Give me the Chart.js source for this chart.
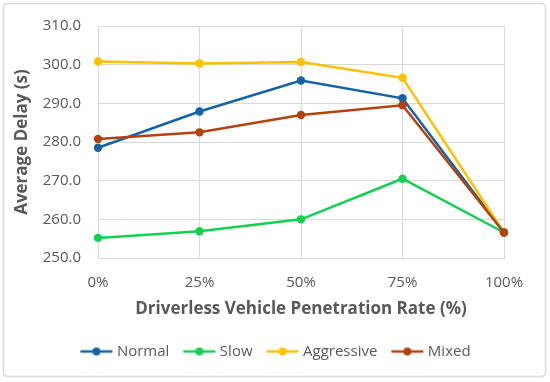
<!DOCTYPE html>
<html><head><meta charset="utf-8">
<script src="https://cdn.jsdelivr.net/npm/chart.js@4"></script>
<style>html,body{margin:0;padding:0;background:#fff}#wrap{width:550px;height:382px}</style>
</head><body><div id="wrap"><canvas id="c" width="550" height="382"></canvas></div>
<script>
const categories = ['0%', '25%', '50%', '75%', '100%'];
const seriesNames = ['Normal', 'Slow', 'Aggressive', 'Mixed'];
const normal = [278.5, 287.9, 295.9, 291.3, 256.6];
const slow = [255.2, 256.9, 260.0, 270.5, 256.6];
const aggressive = [300.8, 300.3, 300.7, 296.6, 256.6];
const mixed = [280.8, 282.5, 287.0, 289.5, 256.6];
const yMin = 250, yMax = 310, yStep = 10;
const xTitle = 'Driverless Vehicle Penetration Rate (%)';
const yTitle = 'Average Delay (s)';

const colors = ['#1563A6', '#14D052', '#FFC000', '#B3420F'];
const FONT = '"Open Sans", sans-serif';
const TXT = '#595959';

function markerImg(color) {
  const c = document.createElement('canvas');
  c.width = 38; c.height = 12;
  const g = c.getContext('2d');
  g.strokeStyle = color; g.lineWidth = 2.5;
  g.beginPath(); g.moveTo(5, 6); g.lineTo(37, 6); g.stroke();
  g.fillStyle = color;
  g.beginPath(); g.arc(21, 6, 4, 0, Math.PI * 2); g.fill();
  return c;
}
const markers = colors.map(markerImg);

const values = [normal, slow, aggressive, mixed];
const datasets = values.map((v, i) => ({
  label: seriesNames[i],
  data: v,
  borderColor: colors[i],
  backgroundColor: colors[i],
  borderWidth: 2.5,
  pointRadius: 4.2,
  pointHoverRadius: 4.2,
  pointBorderWidth: 0,
  tension: 0,
  order: 4 - i
}));

const frame = {
  id: 'frame',
  beforeDraw(chart) {
    const ctx = chart.ctx;
    ctx.save();
    ctx.fillStyle = '#fff';
    ctx.fillRect(0, 0, chart.width, chart.height);
    ctx.strokeStyle = '#D9D9D9';
    ctx.lineWidth = 1.5;
    ctx.beginPath();
    ctx.roundRect(3.5, 3.5, 542, 373, 4);
    ctx.stroke();
    ctx.restore();
  }
};

new Chart(document.getElementById('c'), {
  type: 'line',
  data: { labels: categories, datasets },
  plugins: [frame],
  options: {
    responsive: false,
    devicePixelRatio: 1,
    animation: false,
    layout: { padding: { top: 24, right: 0, left: 0, bottom: 13 } },
    plugins: {
      tooltip: { enabled: false },
      legend: {
        position: 'bottom',
        labels: {
          usePointStyle: true,
          pointStyleWidth: 30,
          padding: 13,
          color: TXT,
          font: { family: FONT, size: 15 },
          generateLabels(chart) {
            return chart.data.datasets.map((d, i) => ({
              text: d.label,
              fillStyle: d.borderColor,
              strokeStyle: d.borderColor,
              fontColor: TXT,
              lineWidth: 0,
              pointStyle: markers[i],
              hidden: false,
              datasetIndex: i
            }));
          }
        }
      }
    },
    scales: {
      x: {
        offset: false,
        grid: { color: '#D9D9D9', lineWidth: 1, drawTicks: false },
        border: { color: '#D9D9D9' },
        ticks: { color: TXT, padding: 16, font: { family: FONT, size: 15 } },
        title: { display: true, text: xTitle, color: TXT, font: { family: FONT, size: 17, weight: 'bold' }, padding: { top: 0, bottom: 12 } },
        afterFit(s) { s.height = 73; }
      },
      y: {
        min: yMin, max: yMax,
        grid: { color: '#D9D9D9', lineWidth: 1, drawTicks: false },
        border: { display: false },
        ticks: { stepSize: yStep, color: TXT, padding: 17, font: { family: FONT, size: 15 }, callback: v => v.toFixed(1) },
        title: { display: true, text: yTitle, color: TXT, font: { family: FONT, size: 17, weight: 'bold' }, padding: { top: 12, bottom: 0 } },
        afterFit(s) { s.width = 98; }
      },
      yRight: {
        position: 'right',
        display: true,
        min: yMin, max: yMax,
        grid: { drawOnChartArea: false, drawTicks: false, display: false },
        border: { display: false },
        ticks: { display: false },
        afterFit(s) { s.width = 46; }
      }
    }
  }
});
</script></body></html>
